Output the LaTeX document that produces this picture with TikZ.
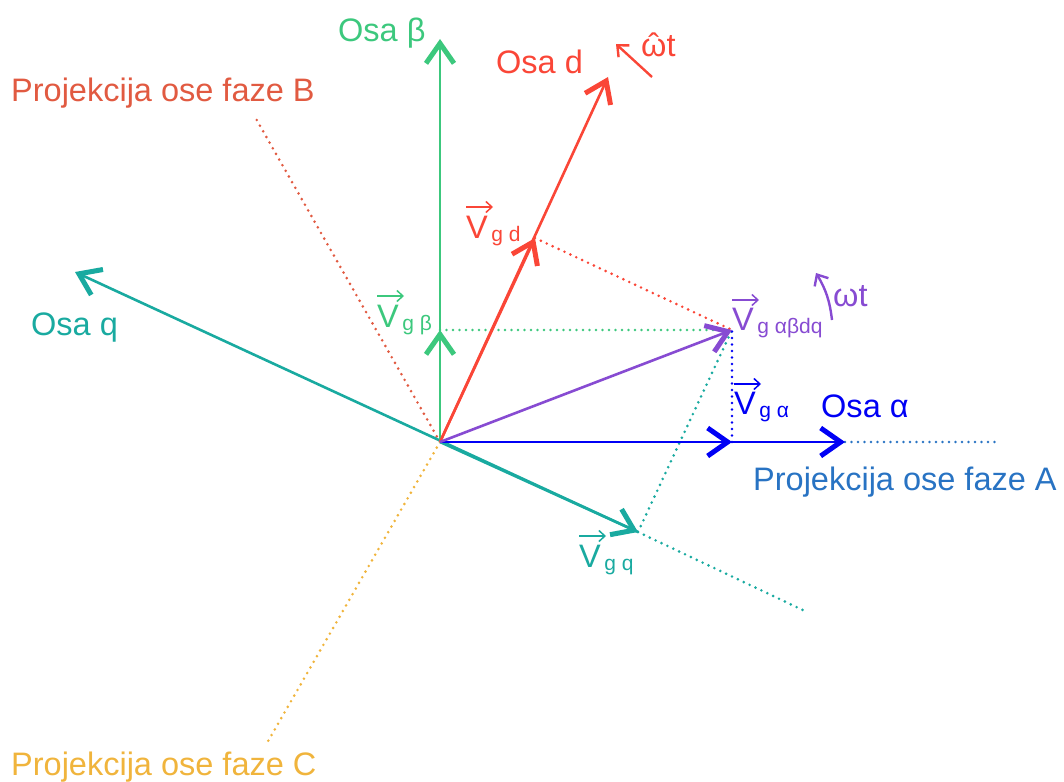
\documentclass[tikz,border=0pt]{standalone}
\usepackage{fontspec}
\setmainfont{Liberation Sans}
\usepackage{tikz}
\usetikzlibrary{arrows.meta}
\definecolor{mygreen}{RGB}{60,200,125}
\definecolor{myred}{RGB}{250,70,55}
\definecolor{myteal}{RGB}{25,170,160}
\definecolor{myblue}{RGB}{0,0,245}
\definecolor{mypurple}{RGB}{135,75,210}
\definecolor{phaseA}{RGB}{40,115,195}
\definecolor{phaseB}{RGB}{225,90,65}
\definecolor{phaseC}{RGB}{240,180,60}
\newcommand{\subsize}{\fontsize{21}{21}\selectfont}
\newcommand{\vlab}[1]{V\raisebox{-3pt}{\subsize\,#1}}
\newcommand{\hatomega}{\setbox0\hbox{ω}%
  \rlap{\hbox to\wd0{\hss ˆ\hss}}ω}
\tikzset{
  axis/.style={line width=2.6pt,
    -{Straight Barb[length=20pt, width=28pt, line width=5pt]}},
  proj/.style={line width=2.9pt, line cap=round, dash pattern=on 0pt off 6.5pt},
  rotarrow/.style={line width=2.4pt,
    -{Straight Barb[length=9pt, width=16pt, line width=2.4pt]}},
  vecarrow/.style={line width=1.5pt,
    -{Straight Barb[length=6pt, width=11pt, line width=1.5pt]}},
  lbl/.style={font=\fontsize{32.5}{38}\selectfont, inner sep=0pt}
}
\begin{document}
\begin{tikzpicture}[x=1pt, y=-1pt]
  \useasboundingbox (0,0) rectangle (1064,781);

  % Origin and axis tips
  \coordinate (O) at (440,442);
  \coordinate (betatip) at (440,39);
  \coordinate (dtip) at (608,77);
  \coordinate (qtip) at (75,272);
  \coordinate (alphatip) at (845,442);
  \coordinate (alphaend) at (1000,442);
  \coordinate (qend) at (807,612);
  \coordinate (Bend) at (255,117);
  \coordinate (Cend) at (267,743);

  % Vector and its components
  \coordinate (vg) at (732,330);
  \coordinate (vgbeta) at (440,330);
  \coordinate (vgalpha) at (732,442);
  \coordinate (vgd) at (535,238);
  \coordinate (vgq) at (638,532);

  % Phase projections
  \draw[proj, color=phaseB] (O) -- (Bend);
  \draw[proj, color=phaseC] (O) -- (Cend);
  \draw[proj, color=phaseA] (alphatip) -- (alphaend);
  \draw[proj, color=myteal] (vgq) -- (qend);

  % Projection lines of the vector
  \draw[proj, color=mygreen] (vgbeta) -- (vg);
  \draw[proj, color=myred] (vgd) -- (vg);
  \draw[proj, color=myteal] (vgq) -- (vg);
  \draw[proj, color=myblue] (vgalpha) -- (vg);

  % Axes
  \draw[axis, color=mygreen] (O) -- (betatip);
  \draw[axis, color=myred] (O) -- (dtip);
  \draw[axis, color=myteal] (vgq) -- (qtip);
  \draw[axis, color=myblue] (O) -- (alphatip);

  % Components
  \draw[axis, color=mygreen] (O) -- (vgbeta);
  \draw[axis, color=myred] (O) -- (vgd);
  \draw[axis, color=myteal] (O) -- (vgq);
  \draw[axis, color=myblue] (O) -- (vgalpha);
  \draw[axis, color=mypurple] (O) -- (vg);

  % Rotation
  \draw[rotarrow, color=myred] (652,77) -- (616,44);
  \draw[rotarrow, color=mypurple] (832,320) to[bend right=12] (816,273);

  % Axis labels
  \node[lbl, anchor=base west, text=mygreen] (labbeta) at (338,42) {Osa β};
  \node[lbl, anchor=base west, text=myred] (labd) at (496,74) {Osa d};
  \node[lbl, anchor=base west, text=myteal] (labq) at (31,335) {Osa q};
  \node[lbl, anchor=base west, text=myblue] (labalpha) at (821,417) {Osa α};
  \node[lbl, anchor=base west, text=myred] (labwhat) at (641,57) {\hatomega t};
  \node[lbl, anchor=base west, text=mypurple] (labw) at (833,306) {ωt};

  % Phase labels
  \node[lbl, anchor=base west, text=phaseB] (labB) at (11,102) {Projekcija ose faze B};
  \node[lbl, anchor=base west, text=phaseC] (labC) at (11,775) {Projekcija ose faze C};
  \node[lbl, anchor=base west, text=phaseA] (labA) at (753,490) {Projekcija ose faze A};

  % Vector labels
  \node[lbl, anchor=base west, text=mygreen] (labvgbeta) at (377,327) {\vlab{g β}};
  \node[lbl, anchor=base west, text=myred] (labvgd) at (466,238) {\vlab{g d}};
  \node[lbl, anchor=base west, text=mypurple] (labvg) at (732,330) {\vlab{g αβdq}};
  \node[lbl, anchor=base west, text=myblue] (labvgalpha) at (734,414) {\vlab{g α}};
  \node[lbl, anchor=base west, text=myteal] (labvgq) at (579,567) {\vlab{g q}};

  % Vector arrows over the V
  \draw[vecarrow, color=mygreen] ([yshift=31pt]labvgbeta.base west) -- ++(27,0);
  \draw[vecarrow, color=myred] ([yshift=31pt]labvgd.base west) -- ++(27,0);
  \draw[vecarrow, color=mypurple] ([yshift=30pt]labvg.base west) -- ++(27,0);
  \draw[vecarrow, color=myblue] ([yshift=30pt]labvgalpha.base west) -- ++(27,0);
  \draw[vecarrow, color=myteal] ([yshift=31pt]labvgq.base west) -- ++(27,0);

\end{tikzpicture}
\end{document}
